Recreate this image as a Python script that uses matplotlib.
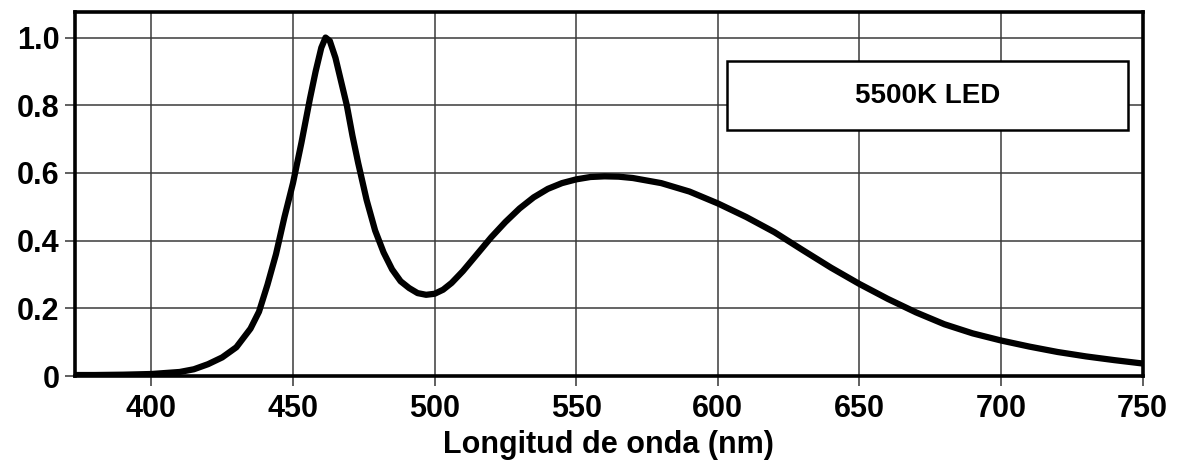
import numpy as np
import matplotlib.pyplot as plt
from matplotlib.patches import Rectangle

# spectral power distribution
wavelength = [372, 380, 390, 400, 410, 415, 420, 425, 430, 435, 438, 441, 444,
              447, 450, 453, 456, 458, 460, 461.5, 463, 465, 467, 469, 471, 473,
              476, 479, 482, 485, 488, 491, 494, 497, 500, 503, 506, 510, 515,
              520, 525, 530, 535, 540, 545, 550, 555, 560, 565, 570, 580, 590,
              600, 610, 620, 630, 640, 650, 660, 670, 680, 690, 700, 710, 720,
              730, 740, 750]
intensity = [0.003, 0.003, 0.004, 0.006, 0.012, 0.02, 0.035, 0.055, 0.085, 0.14,
             0.19, 0.27, 0.36, 0.47, 0.57, 0.69, 0.82, 0.90, 0.97, 1.0, 0.99,
             0.94, 0.87, 0.80, 0.71, 0.63, 0.52, 0.43, 0.365, 0.315, 0.28, 0.26,
             0.245, 0.24, 0.243, 0.255, 0.275, 0.31, 0.36, 0.41, 0.455, 0.495,
             0.528, 0.553, 0.57, 0.581, 0.588, 0.59, 0.589, 0.585, 0.57, 0.545,
             0.51, 0.47, 0.425, 0.372, 0.32, 0.272, 0.228, 0.188, 0.153, 0.126,
             0.105, 0.087, 0.071, 0.058, 0.047, 0.037]

x_ticks = [400, 450, 500, 550, 600, 650, 700, 750]
y_ticks = [0, 0.2, 0.4, 0.6, 0.8, 1.0]
y_tick_labels = ['0', '0.2', '0.4', '0.6', '0.8', '1.0']
label_text = '5500K LED'
x_label = 'Longitud de onda (nm)'

plt.rcParams['font.family'] = ['Liberation Sans', 'DejaVu Sans']
plt.rcParams['font.weight'] = 'bold'

fig = plt.figure(figsize=(11.89, 4.73), dpi=100)
ax = fig.add_axes([0.063, 0.205, 0.898, 0.77])

ax.plot(wavelength, intensity, color='black', linewidth=4.5, solid_capstyle='round',
        solid_joinstyle='round', zorder=3)

ax.set_xlim(373, 750)
ax.set_ylim(0, 1.076)
ax.set_xticks(x_ticks)
ax.set_yticks(y_ticks)
ax.set_yticklabels(y_tick_labels)
ax.grid(True, color='#3a3a3a', linewidth=1.1)
ax.set_axisbelow(True)

for s in ax.spines.values():
    s.set_linewidth(2.6)
ax.tick_params(axis='both', labelsize=22, width=1.2, length=7, color='#444444')
ax.tick_params(axis='x', pad=6)
ax.tick_params(axis='y', pad=4)
for t in ax.get_xticklabels() + ax.get_yticklabels():
    t.set_fontweight('bold')
ax.set_xlabel(x_label, fontsize=22, fontweight='bold', labelpad=4)

# legend-like box
box = Rectangle((603.4, 0.726), 141.5, 0.204, facecolor='white',
                edgecolor='black', linewidth=1.8, zorder=4)
ax.add_patch(box)
ax.text(603.4 + 141.5 / 2, 0.828, label_text, ha='center', va='center',
        fontsize=20, fontweight='bold', zorder=5)

fig.savefig('out.png', dpi=100)
